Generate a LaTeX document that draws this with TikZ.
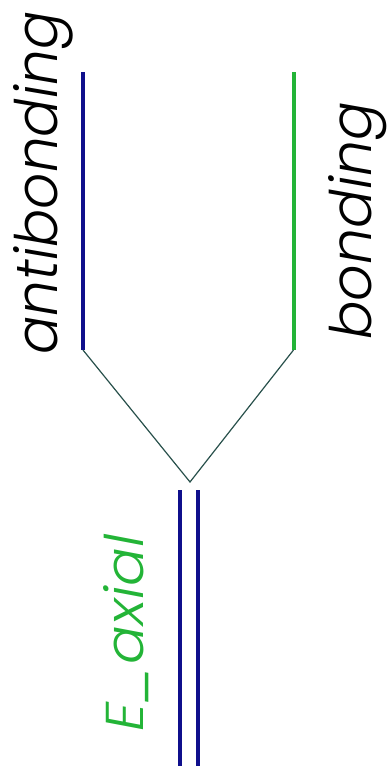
\documentclass[tikz,border=0pt]{standalone}
\usepackage{fontspec}
\setmainfont{Poppins}[UprightFont=*-Light, ItalicFont=*-LightItalic, BoldFont=*-Regular]
\usepackage{graphicx}
\definecolor{navy}{RGB}{15,15,140}
\definecolor{lgreen}{RGB}{35,180,55}
\definecolor{connc}{RGB}{40,80,75}
\tikzset{
  level/.style={line width=4pt},
  conn/.style={line width=1.2pt, color=connc},
  lbl/.style={inner sep=0pt, rotate=90, anchor=base west},
}
\begin{document}
\begin{tikzpicture}[x=1pt,y=-1pt]
\useasboundingbox (0,0) rectangle (391,769);
% levels
\coordinate (abtop) at (83,72);
\coordinate (abbot) at (83,350);
\coordinate (btop) at (293.5,72);
\coordinate (bbot) at (293.5,350);
\coordinate (apex) at (190,482);
\coordinate (e1top) at (180,490);
\coordinate (e1bot) at (180,766);
\coordinate (e2top) at (198,490);
\coordinate (e2bot) at (198,766);
\draw[level, navy] (abtop) -- (abbot);
\draw[level, lgreen] (btop) -- (bbot);
\draw[level, navy] (e1top) -- (e1bot);
\draw[level, navy] (e2top) -- (e2bot);
\draw[conn] (abbot) -- (apex) -- (bbot);
% labels
\node[lbl] (tab) at (57,355) {\resizebox{343pt}{44pt}{\itshape antibonding}};
\node[lbl] (tb) at (371,340) {\resizebox{238pt}{43pt}{\itshape bonding}};
\node[lbl, text=lgreen] (tea) at (143,732) {\resizebox{197pt}{40pt}{\itshape E\_axial}};
\end{tikzpicture}
\end{document}
